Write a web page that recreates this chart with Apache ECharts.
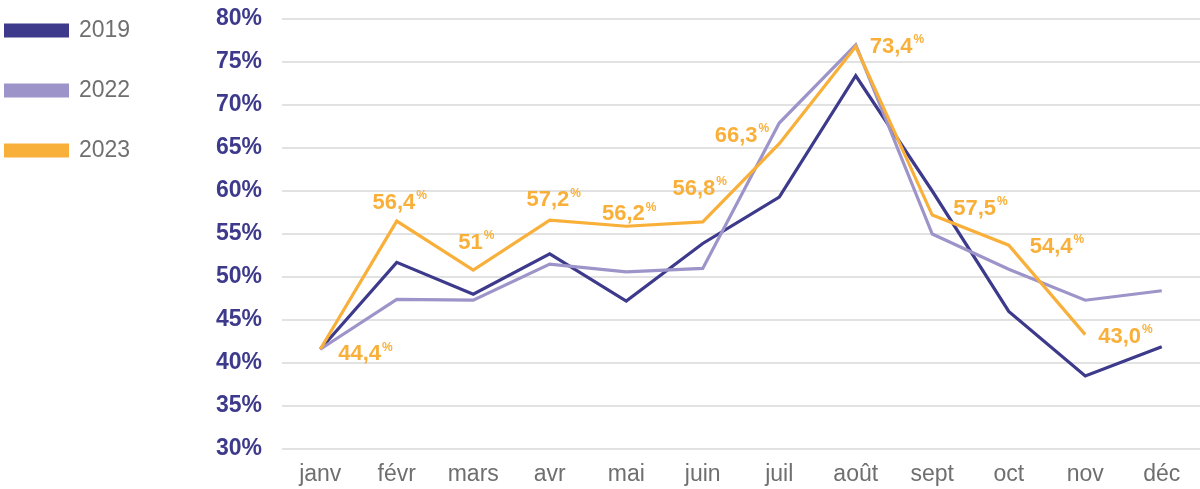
<!DOCTYPE html>
<html>
<head>
<meta charset="utf-8">
<script src="https://cdn.jsdelivr.net/npm/echarts@6/dist/echarts.min.js"></script>
<style>
  html, body { margin: 0; padding: 0; background: #fff; }
  #chart { width: 1200px; height: 489px; }
</style>
</head>
<body>
<div id="chart"></div>
<script>
const months = ['janv', 'févr', 'mars', 'avr', 'mai', 'juin', 'juil', 'août', 'sept', 'oct', 'nov', 'déc'];
const yTicks = { min: 30, max: 80, step: 5 };

const values2019 = [41.6, 51.7, 48.0, 52.7, 47.2, 53.9, 59.3, 73.4, 60.0, 46.0, 38.5, 41.9];
const values2022 = [41.6, 47.4, 47.3, 51.5, 50.6, 51.0, 67.9, 77.0, 55.0, 50.9, 47.3, 48.4];
const values2023 = [41.6, 56.5, 50.8, 56.6, 55.9, 56.4, 65.5, 76.8, 57.2, 53.7, 43.3, null];
// texts printed next to the 2023 line
const labels2023 = ['44,4', '56,4', '51', '57,2', '56,2', '56,8', '66,3', '73,4', '57,5', '54,4', '43,0', null];

const navy = '#3d3a8c';
const lilac = '#9d95c9';
const orange = '#f9b03a';
const grey = '#6f6f6f';

// where each 2023 label sits relative to its point
const labelPlace = [
  { position: 'right', distance: 18, offset: [0, 4] },
  { position: 'top', distance: 7, offset: [3, 0] },
  { position: 'top', distance: 16, offset: [3, 0] },
  { position: 'top', distance: 9, offset: [4, 0] },
  { position: 'top', distance: 1, offset: [3, 0] },
  { position: 'top', distance: 22, offset: [-3, 0] },
  { position: 'left', distance: 10, offset: [0, -9] },
  { position: 'right', distance: 14, offset: [0, -1] },
  { position: 'right', distance: 21, offset: [0, -7] },
  { position: 'right', distance: 21, offset: [0, 1] },
  { position: 'right', distance: 13, offset: [0, 1] }
];

const data2023 = values2023.map((v, i) => {
  if (v == null) return null;
  const p = labelPlace[i];
  return {
    value: v,
    label: {
      show: true,
      position: p.position,
      distance: p.distance,
      offset: p.offset,
      formatter: '{v|' + labels2023[i] + '}{p|%}'
    }
  };
});

const chart = echarts.init(document.getElementById('chart'), null, { renderer: 'canvas' });

const lineSeries = (name, color, data, z) => ({
  name: name,
  type: 'line',
  data: data,
  z: z,
  symbol: 'circle',
  symbolSize: 0,
  showSymbol: true,
  smooth: false,
  connectNulls: false,
  lineStyle: { color: color, width: 3.2, join: 'miter' },
  itemStyle: { color: color },
  emphasis: { disabled: true }
});

const s2023 = lineSeries('2023', orange, data2023, 4);
s2023.label = {
  show: false,
  rich: {
    v: { fontFamily: 'Liberation Sans', fontWeight: 'bold', fontSize: 22, color: orange, verticalAlign: 'bottom', lineHeight: 24 },
    p: { fontFamily: 'Liberation Sans', fontWeight: 'bold', fontSize: 12, color: orange, verticalAlign: 'top', lineHeight: 24, padding: [0, 0, 8, 1] }
  }
};

chart.setOption({
  animation: false,
  backgroundColor: '#ffffff',
  legend: {
    orient: 'vertical',
    left: -1,
    top: 14,
    itemWidth: 65,
    itemHeight: 14,
    itemGap: 37,
    icon: 'rect',
    selectedMode: false,
    data: ['2019', '2022', '2023'],
    textStyle: { fontFamily: 'Liberation Sans', fontSize: 23, color: grey, padding: [0, 0, 0, 5] }
  },
  grid: {
    left: 282,
    top: 19,
    width: 924,
    height: 430,
    containLabel: false
  },
  xAxis: {
    type: 'category',
    data: months,
    boundaryGap: true,
    axisLine: { show: false },
    axisTick: { show: false },
    axisLabel: { margin: 14, fontFamily: 'Liberation Sans', fontSize: 23, color: grey, interval: 0 }
  },
  yAxis: {
    type: 'value',
    min: yTicks.min,
    max: yTicks.max,
    interval: yTicks.step,
    axisLine: { show: false },
    axisTick: { show: false },
    splitLine: { lineStyle: { color: '#d9d9d9', width: 1.5 } },
    axisLabel: {
      margin: 20,
      fontFamily: 'Liberation Sans',
      fontWeight: 'bold',
      fontSize: 23,
      color: navy,
      formatter: '{value}%'
    }
  },
  series: [
    lineSeries('2019', navy, values2019, 2),
    lineSeries('2022', lilac, values2022, 3),
    s2023
  ]
});
</script>
</body>
</html>
